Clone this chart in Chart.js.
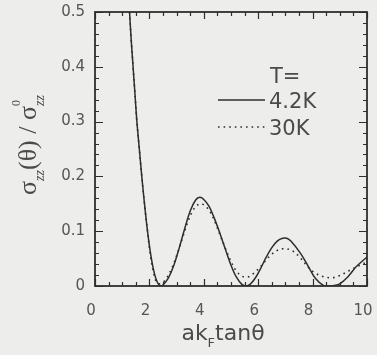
<!DOCTYPE html>
<html>
<head>
<meta charset="utf-8">
<script src="https://cdn.jsdelivr.net/npm/chart.js@4.4.0/dist/chart.umd.min.js"></script>
<style>
  html, body { margin: 0; padding: 0; background: #ededeb; }
  #wrap { width: 377px; height: 355px; }
</style>
</head>
<body>
<div id="wrap"><canvas id="sigmaChart" width="377" height="355"></canvas></div>
<script>
// tick labels
const xTicks = [0, 2, 4, 6, 8, 10];
const yTicks = [0, 0.1, 0.2, 0.3, 0.4, 0.5];

// T = 4.2K (solid)
const xLow = [1.27, 1.33, 1.4, 1.47, 1.54, 1.63, 1.72, 1.82, 1.93, 2.04, 2.15, 2.25, 2.35, 2.42, 2.5, 2.7, 2.9, 3.1, 3.3, 3.5, 3.7, 3.85, 4.0, 4.2, 4.4, 4.6, 4.8, 5.0, 5.2, 5.4, 5.55, 5.7, 5.9, 6.1, 6.3, 6.5, 6.7, 6.9, 7.05, 7.2, 7.55, 7.85, 8.1, 8.4, 8.6, 8.8, 9.0, 9.3, 9.6, 10];
const yLow = [0.5, 0.45, 0.4, 0.35, 0.3, 0.25, 0.2, 0.15, 0.1, 0.06, 0.03, 0.012, 0.002, 0.0, 0.002, 0.015, 0.038, 0.07, 0.105, 0.137, 0.157, 0.162, 0.158, 0.145, 0.122, 0.095, 0.066, 0.038, 0.016, 0.003, 0.0, 0.003, 0.015, 0.033, 0.053, 0.07, 0.082, 0.087, 0.087, 0.082, 0.06, 0.035, 0.014, 0.001, 0.0, 0.001, 0.004, 0.017, 0.035, 0.053];

// T = 30K (dotted)
const xHigh = [1.27, 1.33, 1.4, 1.47, 1.54, 1.63, 1.72, 1.82, 1.93, 2.04, 2.15, 2.25, 2.35, 2.45, 2.6, 2.8, 3.0, 3.2, 3.4, 3.6, 3.8, 3.9, 4.0, 4.2, 4.4, 4.6, 4.8, 5.0, 5.2, 5.4, 5.55, 5.7, 5.9, 6.1, 6.3, 6.5, 6.7, 6.9, 7.05, 7.3, 7.55, 7.9, 8.15, 8.4, 8.65, 8.9, 9.2, 9.45, 9.7, 10];
const yHigh = [0.5, 0.45, 0.4, 0.35, 0.3, 0.25, 0.2, 0.15, 0.1, 0.055, 0.025, 0.008, 0.004, 0.005, 0.012, 0.03, 0.055, 0.085, 0.115, 0.138, 0.149, 0.15, 0.148, 0.138, 0.118, 0.093, 0.068, 0.045, 0.027, 0.018, 0.016, 0.018, 0.026, 0.036, 0.048, 0.058, 0.065, 0.068, 0.068, 0.063, 0.051, 0.031, 0.022, 0.017, 0.015, 0.017, 0.024, 0.031, 0.037, 0.044];

const seriesLabels = ["4.2K", "30K"];

const INK = "#2e2e2e";
const TEXT = "#4a4a4a";

function toPoints(xs, ys) {
  return xs.map((x, i) => ({ x: x, y: ys[i] }));
}

// frame + inward ticks on all four sides
const framePlugin = {
  id: "frame",
  afterDatasetsDraw(chart) {
    const { ctx, chartArea: a, scales } = chart;
    ctx.save();
    ctx.strokeStyle = INK;
    ctx.lineWidth = 1.2;
    ctx.beginPath();
    for (let v = 0; v <= 0.5001; v += 0.02) {
      const y = Math.round(scales.y.getPixelForValue(v)) + 0.5;
      const major = Math.abs(v * 10 - Math.round(v * 10)) < 1e-6;
      const len = major ? 8 : 4;
      ctx.moveTo(a.left, y); ctx.lineTo(a.left + len, y);
      ctx.moveTo(a.right, y); ctx.lineTo(a.right - len, y);
    }
    for (let v = 0; v <= 10.001; v += 0.5) {
      const x = Math.round(scales.x.getPixelForValue(v)) + 0.5;
      const major = Math.abs(v / 2 - Math.round(v / 2)) < 1e-6;
      const len = major ? 7 : 4;
      ctx.moveTo(x, a.top); ctx.lineTo(x, a.top + len);
      ctx.moveTo(x, a.bottom); ctx.lineTo(x, a.bottom - len);
    }
    ctx.stroke();
    ctx.lineWidth = 1.8;
    ctx.strokeRect(a.left, a.top, a.right - a.left, a.bottom - a.top);
    ctx.restore();
  }
};

// draw a run of text pieces: [text, font, baseline offset, no advance]
function drawRun(ctx, pieces, x, y) {
  let cx = x;
  pieces.forEach((p) => {
    ctx.font = p[1];
    ctx.fillText(p[0], cx, y + p[2]);
    if (!p[3]) cx += ctx.measureText(p[0]).width;
  });
}
function runWidth(ctx, pieces) {
  let w = 0;
  pieces.forEach((p) => {
    ctx.font = p[1];
    if (!p[3]) w += ctx.measureText(p[0]).width;
  });
  return w;
}

const titlePlugin = {
  id: "titles",
  afterDraw(chart) {
    const { ctx, chartArea: a } = chart;
    ctx.save();
    ctx.fillStyle = TEXT;
    ctx.textBaseline = "alphabetic";
    ctx.textAlign = "left";

    // x title: ak_F tanθ
    const sans = "22px 'DejaVu Sans'";
    const xt = [["ak", sans, 0], ["F", "13px 'DejaVu Sans'", 7], ["tanθ", sans, 0]];
    const cxT = (a.left + a.right) / 2 - 8;
    drawRun(ctx, xt, cxT - runWidth(ctx, xt) / 2, 340);

    // y title: σzz(θ) / σzz^0
    const serif = "26px 'Liberation Serif'";
    const sub = "italic 14px 'Liberation Serif'";
    const yt = [
      ["σ", serif, 0], ["zz", sub, 8], ["(θ) / σ", serif, 0],
      ["0", "12px 'Liberation Serif'", -16, true], ["zz", sub, 8]
    ];
    ctx.translate(36, 145);
    ctx.rotate(-Math.PI / 2);
    drawRun(ctx, yt, -runWidth(ctx, yt) / 2, 0);
    ctx.restore();

    // legend
    ctx.save();
    ctx.fillStyle = TEXT;
    ctx.font = "21px 'DejaVu Sans'";
    ctx.fillText("T=", 270, 83);
    const rows = [100, 127];
    chart.data.datasets.forEach((ds, i) => {
      const y = rows[i];
      ctx.strokeStyle = ds.borderColor;
      ctx.lineWidth = ds.borderWidth;
      ctx.setLineDash(ds.borderDash || []);
      ctx.beginPath();
      ctx.moveTo(218, y);
      ctx.lineTo(265, y);
      ctx.stroke();
      ctx.fillText(ds.label, 269, y + 8);
    });
    ctx.restore();
  }
};

function initializeChart() {
  const ctx = document.getElementById("sigmaChart").getContext("2d");
  new Chart(ctx, {
    type: "line",
    data: {
      datasets: [
        {
          label: seriesLabels[0],
          data: toPoints(xLow, yLow),
          borderColor: INK,
          borderWidth: 1.5,
          pointRadius: 0,
          tension: 0.35,
          fill: false,
        },
        {
          label: seriesLabels[1],
          data: toPoints(xHigh, yHigh),
          borderColor: INK,
          borderWidth: 1.6,
          borderDash: [1.6, 4],
          pointRadius: 0,
          tension: 0.35,
          fill: false,
        },
      ],
    },
    options: {
      responsive: false,
      animation: false,
      layout: { padding: { top: 12, right: 10, left: 0, bottom: 0 } },
      plugins: {
        legend: { display: false },
        tooltip: { enabled: false },
      },
      scales: {
        x: {
          type: "linear",
          min: 0,
          max: 10,
          afterBuildTicks: (s) => { s.ticks = xTicks.map((v) => ({ value: v })); },
          afterFit: (s) => { s.height = 69; s.paddingLeft = 0; s.paddingRight = 0; },
          grid: { display: false, drawTicks: false },
          border: { display: false },
          ticks: {
            color: "#555",
            font: { family: "DejaVu Sans", size: 15 },
            padding: 16,
            labelOffset: -4,
            maxRotation: 0,
            autoSkip: false,
            callback: (v) => String(v),
          },
        },
        y: {
          type: "linear",
          min: 0,
          max: 0.5,
          afterBuildTicks: (s) => { s.ticks = yTicks.map((v) => ({ value: v })); },
          afterFit: (s) => { s.width = 95; s.paddingTop = 0; s.paddingBottom = 0; },
          grid: { display: false, drawTicks: false },
          border: { display: false },
          ticks: {
            color: "#555",
            font: { family: "DejaVu Sans", size: 15 },
            padding: 10,
            autoSkip: false,
            callback: (v) => (v === 0 ? "0" : v.toFixed(1)),
          },
        },
      },
    },
    plugins: [framePlugin, titlePlugin],
  });
}

document.addEventListener("DOMContentLoaded", () => {
  initializeChart();
});
</script>
</body>
</html>
